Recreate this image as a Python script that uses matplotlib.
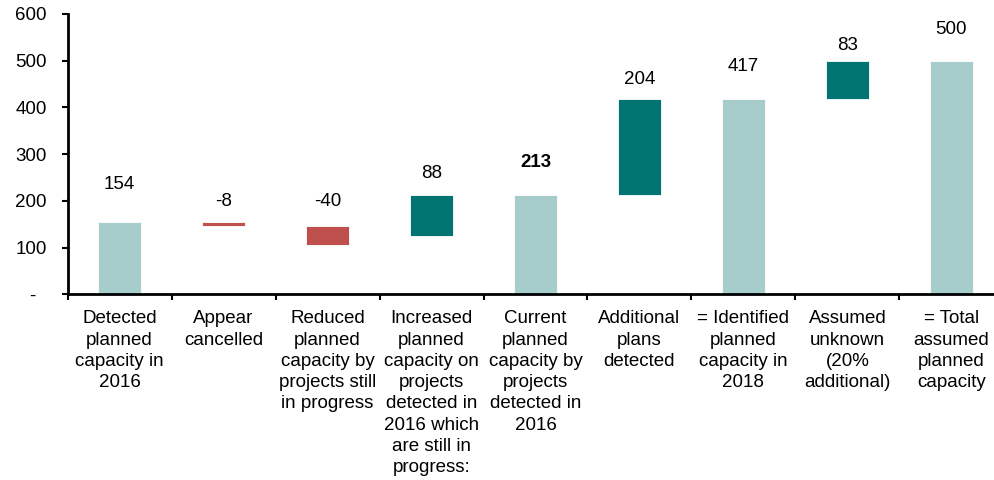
import matplotlib
matplotlib.use("Agg")
import matplotlib.pyplot as plt
import numpy as np

plt.rcParams['font.family'] = ['Liberation Sans', 'DejaVu Sans']

categories = [
    "Detected\nplanned\ncapacity in\n2016",
    "Appear\ncancelled",
    "Reduced\nplanned\ncapacity by\nprojects still\nin progress",
    "Increased\nplanned\ncapacity on\nprojects\ndetected in\n2016 which\nare still in\nprogress:",
    "Current\nplanned\ncapacity by\nprojects\ndetected in\n2016",
    "Additional\nplans\ndetected",
    "= Identified\nplanned\ncapacity in\n2018",
    "Assumed\nunknown\n(20%\nadditional)",
    "= Total\nassumed\nplanned\ncapacity",
]
values = [154, -8, -40, 88, 213, 204, 417, 83, 500]
is_total = [True, False, False, False, True, False, True, False, True]
bold_label = [False, False, False, False, True, False, False, False, False]

y_ticks = [0, 100, 200, 300, 400, 500, 600]
y_tick_labels = ["-  ", "100", "200", "300", "400", "500", "600"]

C_TOTAL = "#A6CDCC"
C_UP = "#007471"
C_DOWN = "#C0504D"

# bar extents: totals start at zero, decreases step down from the running
# level, increases rise up to the next subtotal
n = len(values)
bottoms = np.zeros(n)
heights = np.zeros(n)
level = 0.0
for i, v in enumerate(values):
    if is_total[i]:
        bottoms[i], heights[i] = 0, v
        level = v
    elif v < 0:
        bottoms[i], heights[i] = level + v, -v
        level = level + v
    else:
        k = next(j for j in range(i + 1, n) if is_total[j])
        later = sum(values[j] for j in range(i + 1, k) if values[j] > 0)
        top = values[k] - later
        bottoms[i], heights[i] = top - v, v
        level = top

colors = [C_TOTAL if t else (C_UP if v > 0 else C_DOWN)
          for v, t in zip(values, is_total)]

# label gap above each bar top, in points
label_gap = [27, 15, 18, 15.5, 23.5, 14.5, 23.5, 11, 22.5]

FS = 13.5

fig = plt.figure(figsize=(9.95, 4.8), dpi=100)
ax = fig.add_axes([0.068, 0.387, 0.932, 0.584])

x = np.arange(n)
ax.bar(x, heights, bottom=bottoms, width=0.41, color=colors,
       edgecolor="white", linewidth=0.6, zorder=2)

for i in range(n):
    top = bottoms[i] + heights[i]
    ax.annotate(f"{values[i]:d}", xy=(x[i], top), xytext=(0, label_gap[i]),
                textcoords="offset points", ha="center", va="center",
                fontsize=FS, color="black",
                fontweight="bold" if bold_label[i] else "normal")

ax.set_xlim(-0.5, 8.42)
ax.set_ylim(0, 600)
ax.set_yticks(y_ticks)
ax.set_yticklabels(y_tick_labels)

ax.set_xticks(x)
ax.set_xticklabels(categories, fontsize=FS, linespacing=1.33, va="top")
ax.set_xticks(np.arange(n) - 0.5, minor=True)
ax.tick_params(axis="x", which="major", length=0, pad=11.5)
ax.tick_params(axis="x", which="minor", length=4, width=1.5, direction="out",
               color="black")
ax.tick_params(axis="y", length=4, width=1.5, direction="out", pad=11,
               labelsize=FS, color="black")

for side in ["top", "right"]:
    ax.spines[side].set_visible(False)
for side in ["left", "bottom"]:
    ax.spines[side].set_linewidth(2)
    ax.spines[side].set_color("black")

fig.savefig("out.png", dpi=100)
